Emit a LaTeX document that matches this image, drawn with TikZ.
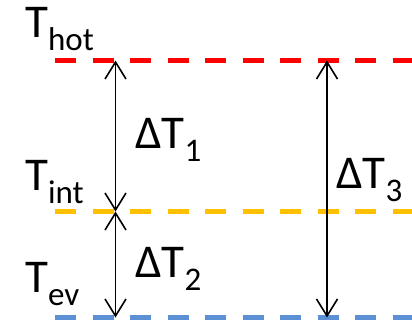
\documentclass[tikz,border=0pt]{standalone}
\usepackage{fontspec}
\setmainfont{Carlito}
\usetikzlibrary{arrows.meta}
\newcommand\lowsub[1]{\raisebox{-13pt}{\fontsize{33}{33}\selectfont #1}}
\begin{document}
\begin{tikzpicture}[x=1pt,y=-1pt,
  level/.style={line width=5pt, dash pattern=on 21pt off 16.5pt},
  dbl/.style={line width=1.6pt, {Straight Barb[length=17pt,width=21pt,line width=1.6pt]}-{Straight Barb[length=17pt,width=21pt,line width=1.6pt]}},
  lbl/.style={inner sep=0pt, anchor=base west, font=\fontsize{47}{47}\selectfont}]
\useasboundingbox (0,0) rectangle (412,322);
\definecolor{hotred}{HTML}{FF0000}
\definecolor{intorange}{HTML}{FFC000}
\definecolor{evblue}{HTML}{5B8FD6}
\coordinate (h0) at (55,60.5);
\coordinate (h1) at (420,60.5);
\coordinate (i0) at (55,211.5);
\coordinate (i1) at (420,211.5);
\coordinate (e0) at (55,317.5);
\coordinate (e1) at (420,317.5);
\draw[level, hotred] (h0) -- (h1);
\draw[level, intorange] (i0) -- (i1);
\draw[level, evblue] (e0) -- (e1);
\coordinate (a1) at (115.5,60.5);
\coordinate (a2) at (115.5,211.5);
\coordinate (a3) at (115.5,317.5);
\coordinate (b1) at (327,60.5);
\coordinate (b3) at (327,317.5);
\draw[dbl] (a1) -- (a2);
\draw[dbl] (a2) -- (a3);
\draw[dbl] (b1) -- (b3);
\node[lbl] (thot) at (25,37) {T\lowsub{hot}};
\node[lbl] (tint) at (25,190) {T\lowsub{int}};
\node[lbl] (tev) at (25,292) {T\lowsub{ev}};
\node[lbl] (dt1) at (135,148) {ΔT\lowsub{1}};
\node[lbl] (dt2) at (135,277) {ΔT\lowsub{2}};
\node[lbl] (dt3) at (336,188) {ΔT\lowsub{3}};
\end{tikzpicture}
\end{document}
